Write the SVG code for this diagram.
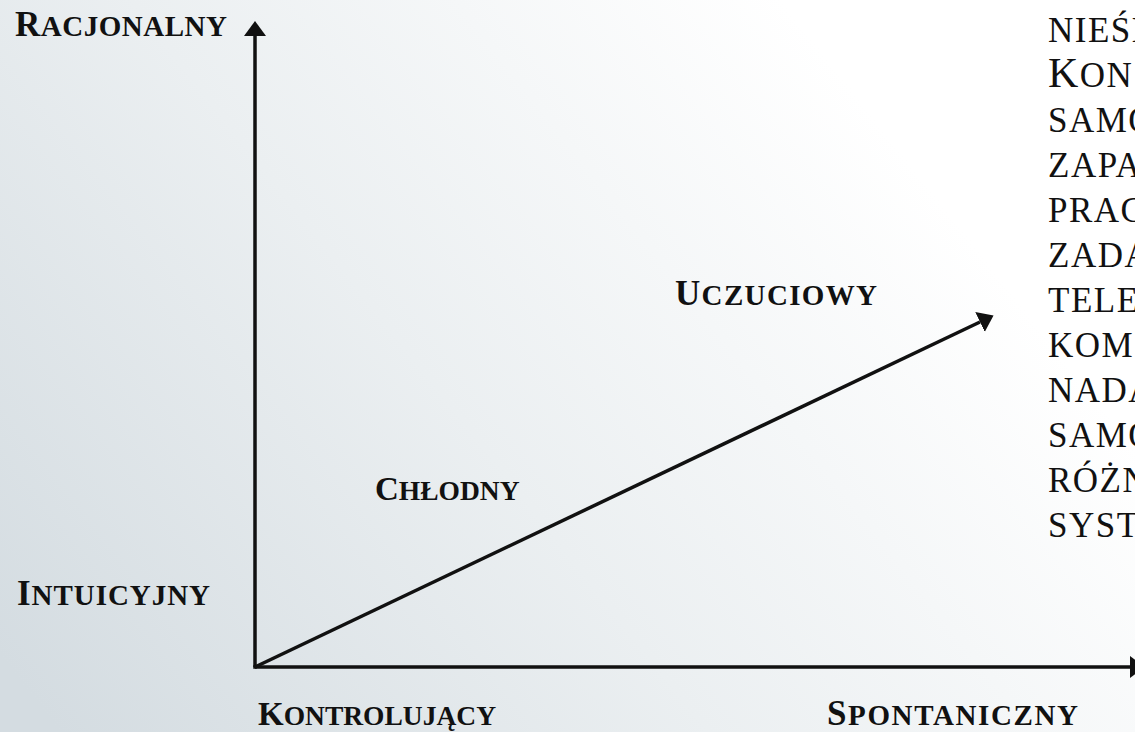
<svg xmlns="http://www.w3.org/2000/svg" width="1135" height="732" viewBox="0 0 1135 732">
  <defs>
    <linearGradient id="bg" gradientUnits="userSpaceOnUse" x1="60" y1="732" x2="860" y2="100">
      <stop offset="0" stop-color="#d4dce1"/>
      <stop offset="0.5" stop-color="#ebeff1"/>
      <stop offset="1" stop-color="#ffffff"/>
    </linearGradient>
    <marker id="arrow" markerUnits="userSpaceOnUse" markerWidth="16" markerHeight="24" viewBox="0 -12 16 24" refX="0" refY="0" orient="auto">
      <path d="M0,-11 L15,0 L0,11 Z" fill="#111"/>
    </marker>
    <style>
      .lbl { font-family: "Liberation Serif", "DejaVu Serif", serif; font-weight: bold; fill: #111; }
      .lbl .cap { font-size: 35px; }
      .lbl .sc { font-size: 29px; }
      .lbl.sm .cap { font-size: 33px; }
      .lbl.sm .sc { font-size: 27.5px; }
      .lst { font-family: "Liberation Serif", "DejaVu Serif", serif; fill: #111; font-size: 35px; letter-spacing: 1.5px; }
      .lst .cap { font-size: 42px; }
      .axis { stroke: #111; stroke-width: 3.5; fill: none; }
    </style>
  </defs>
  <rect width="1135" height="732" fill="url(#bg)"/>

  <g id="connectors">
    <line class="axis" x1="255" y1="667" x2="255" y2="36" marker-end="url(#arrow)"/>
    <line class="axis" x1="255" y1="667" x2="1130" y2="667" marker-end="url(#arrow)"/>
    <line class="axis" x1="255" y1="667" x2="980" y2="322" marker-end="url(#arrow)"/>
    <path d="M253.25,667 L256.75,667" stroke="#111" stroke-width="3.5"/>
  </g>

  <g id="racjonalny">
    <text class="lbl" x="15" y="36" textLength="212" lengthAdjust="spacing"><tspan class="cap">R</tspan><tspan class="sc">ACJONALNY</tspan></text>
  </g>
  <g id="intuicyjny">
    <text class="lbl" x="17" y="605" textLength="193" lengthAdjust="spacing"><tspan class="cap">I</tspan><tspan class="sc">NTUICYJNY</tspan></text>
  </g>
  <g id="kontrolujacy">
    <text class="lbl sm" x="258" y="725"><tspan class="cap">K</tspan><tspan class="sc">ONTROLUJĄCY</tspan></text>
  </g>
  <g id="spontaniczny">
    <text class="lbl" x="827" y="725" textLength="251" lengthAdjust="spacing"><tspan class="cap">S</tspan><tspan class="sc">PONTANICZNY</tspan></text>
  </g>
  <g id="uczuciowy">
    <text class="lbl" x="675" y="305" textLength="202" lengthAdjust="spacing"><tspan class="cap">U</tspan><tspan class="sc">CZUCIOWY</tspan></text>
  </g>
  <g id="chlodny">
    <text class="lbl sm" x="375" y="500"><tspan class="cap">C</tspan><tspan class="sc">HŁODNY</tspan></text>
  </g>

  <g id="lista">
    <text class="lst" x="1048" y="42">NIEŚM</text>
    <text class="lst" x="1048" y="87"><tspan class="cap">K</tspan>ON</text>
    <text class="lst" x="1048" y="132">SAMO</text>
    <text class="lst" x="1048" y="177">ZAPA</text>
    <text class="lst" x="1048" y="222">PRAC</text>
    <text class="lst" x="1048" y="267">ZADA</text>
    <text class="lst" x="1048" y="312">TELE</text>
    <text class="lst" x="1048" y="357">KOM</text>
    <text class="lst" x="1048" y="402">NADA</text>
    <text class="lst" x="1048" y="447">SAMO</text>
    <text class="lst" x="1048" y="492">RÓŻN</text>
    <text class="lst" x="1048" y="537">SYST</text>
  </g>
</svg>
